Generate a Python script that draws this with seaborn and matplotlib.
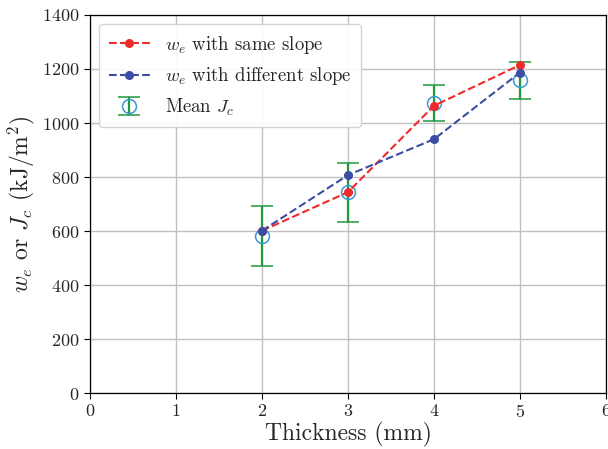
import numpy as np
import pandas as pd
import seaborn as sns
import matplotlib.pyplot as plt

# values
thickness = [2, 3, 4, 5]
we_same = [601, 744, 1064, 1215]
we_diff = [601, 807, 940, 1187]
jc_mean = [581, 744, 1075, 1158]
jc_err_up = [110, 108, 66, 68]
jc_err_down = [111, 112, 66, 68]

sns.set_style("whitegrid")
plt.rcParams['font.family'] = ['cmr10', 'DejaVu Serif']
plt.rcParams['mathtext.fontset'] = 'cm'
plt.rcParams['axes.formatter.use_mathtext'] = True

df = pd.DataFrame({
    "Thickness": thickness * 2,
    "value": we_same + we_diff,
    "series": [r"$w_e$ with same slope"] * 4 + [r"$w_e$ with different slope"] * 4,
})

fig = plt.figure(figsize=(6.08, 4.49), dpi=100)
ax = fig.add_axes([0.148, 0.1247, 0.8487, 0.8419])

sns.lineplot(data=df, x="Thickness", y="value", hue="series",
             palette=["#ee2b2b", "#3b4ea3"], linestyle="--", marker="o",
             markersize=6.5, markeredgewidth=0, linewidth=1.5, ax=ax, zorder=3)

ax.errorbar(thickness, jc_mean, yerr=[jc_err_down, jc_err_up], fmt="o",
            mfc="none", mec="#3a98d6", ms=10, mew=1.1, ecolor="#1f9a3c",
            elinewidth=1.6, capsize=8, capthick=1.4, label=r"Mean $J_c$", zorder=2)

ax.set_xlim(0, 6)
ax.set_ylim(0, 1400)
ax.set_xticks(range(0, 7))
ax.set_yticks(range(0, 1401, 200))
ax.set_xlabel("Thickness (mm)", fontsize=17, labelpad=1)
ax.set_ylabel(r"$w_e$ or $J_c$ (kJ/m$^2$)", fontsize=17)
ax.tick_params(labelsize=13, length=4, width=0.8, color="black", left=True, bottom=True)

ax.grid(True, color="#c0c0c0", linewidth=1.0)
for s in ax.spines.values():
    s.set_color("black")
    s.set_linewidth(0.9)

ax.legend(loc="upper left", fontsize=13.5, frameon=True, framealpha=0.9,
          edgecolor="#d0d0d0", borderpad=0.5, handlelength=2.2)

fig.savefig("out.png", dpi=100)
